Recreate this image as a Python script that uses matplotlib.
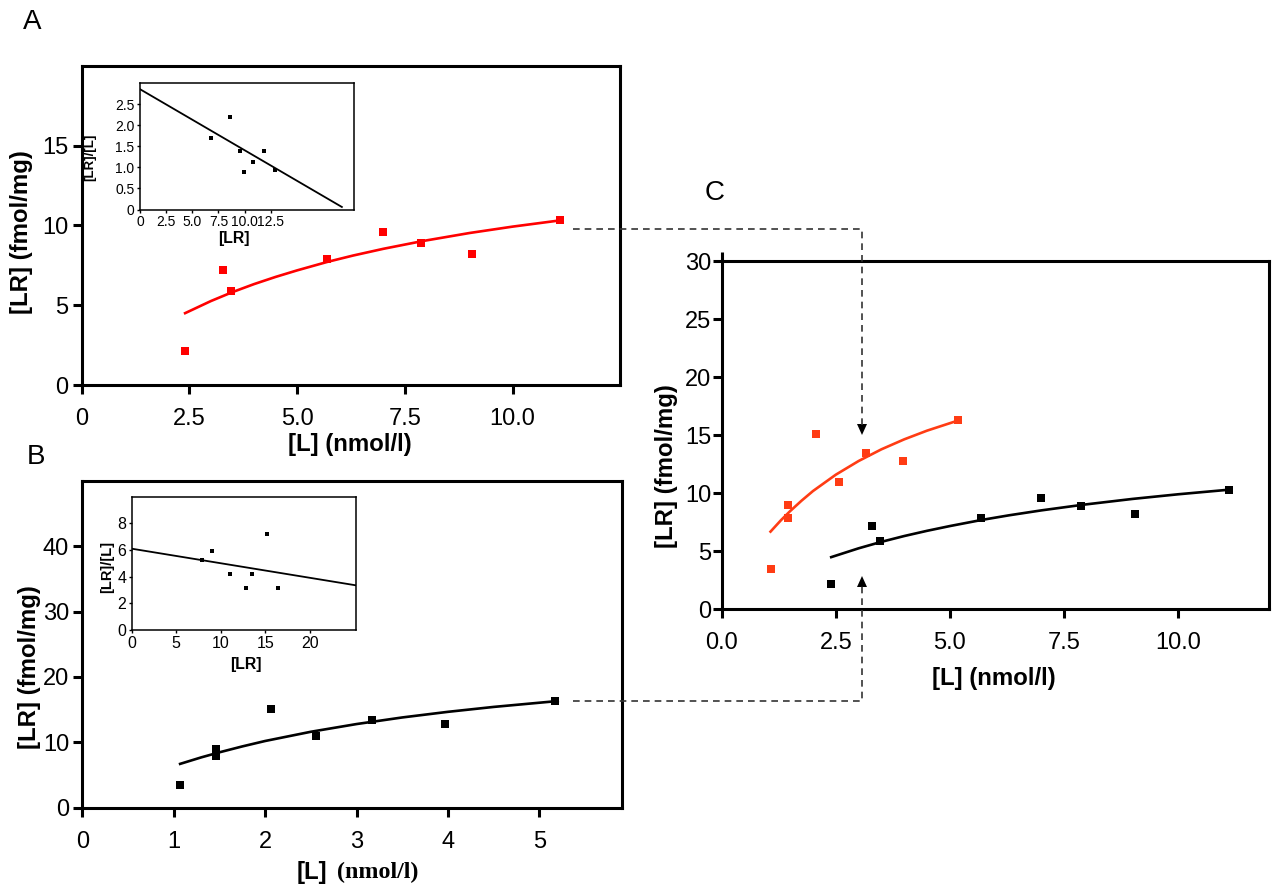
import matplotlib
matplotlib.use('Agg')
import matplotlib.pyplot as plt

plt.rcParams['font.family'] = ['Liberation Sans', 'DejaVu Sans']

# Panel A: saturation binding (red)
ligand_a = [2.4, 3.29, 3.47, 5.69, 6.99, 7.87, 9.05, 11.11]
bound_a = [2.15, 7.2, 5.9, 7.9, 9.6, 8.9, 8.2, 10.33]
fit_a_x = [2.4, 3.0, 3.5, 4.0, 4.5, 5.0, 5.7, 6.3, 7.0, 7.9, 9.0, 10.0, 11.1]
fit_a_y = [4.50, 5.26, 5.82, 6.32, 6.77, 7.18, 7.71, 8.11, 8.53, 9.01, 9.52, 9.92, 10.31]

# Panel A inset: Scatchard
scat_a_x = [6.8, 8.6, 9.55, 9.95, 10.85, 11.9, 12.9]
scat_a_y = [1.71, 2.21, 1.40, 0.90, 1.13, 1.39, 0.94]
scat_a_line_x = [0, 19.3]
scat_a_line_y = [2.86, 0.06]

# Panel B: saturation binding (black)
ligand_b = [1.07, 1.46, 1.46, 2.06, 2.56, 3.17, 3.97, 5.17]
bound_b = [3.45, 9.0, 7.9, 15.15, 11.0, 13.45, 12.75, 16.35]
fit_b_x = [1.07, 1.3, 1.5, 1.75, 2.0, 2.5, 3.0, 3.5, 4.0, 4.5, 5.2]
fit_b_y = [6.70, 7.69, 8.47, 9.37, 10.20, 11.61, 12.79, 13.80, 14.66, 15.41, 16.31]

# Panel B inset: Scatchard
scat_b_x = [7.85, 8.97, 11.03, 12.82, 13.46, 15.25, 16.41]
scat_b_y = [5.22, 5.95, 4.22, 3.17, 4.2, 7.22, 3.12]
scat_b_line_x = [0, 25.2]
scat_b_line_y = [6.1, 3.35]

W, H = 1273, 890
red_a = '#ff0000'
red_c = '#ff3c14'


def box(l, t, r, b):
    return [l / W, 1 - b / H, (r - l) / W, (b - t) / H]


def txt(x, y, s, **kw):
    fig.text(x / W, 1 - y / H, s, ha=kw.pop('ha', 'center'), va='center', **kw)


def style_main(ax):
    for sp in ax.spines.values():
        sp.set_linewidth(2.2)
    ax.tick_params(direction='out', length=6.5, width=2.2, labelsize=17)
    ax.tick_params(axis='x', pad=10)
    ax.tick_params(axis='y', pad=3)


def style_inset(ax, size):
    for sp in ax.spines.values():
        sp.set_linewidth(1.1)
    ax.tick_params(direction='out', length=2.5, width=1.0, labelsize=size, pad=1.5)


fig = plt.figure(figsize=(12.73, 8.9), dpi=100)

# ---- A
ax_a = fig.add_axes(box(81.7, 65.7, 620.3, 385))
ax_a.plot(fit_a_x, fit_a_y, color=red_a, lw=1.9)
ax_a.plot(ligand_a, bound_a, 's', color=red_a, ms=6, mew=0)
ax_a.set_xlim(0, 12.5)
ax_a.set_ylim(0, 20)
ax_a.set_xticks([0, 2.5, 5, 7.5, 10])
ax_a.set_xticklabels(['0', '2.5', '5.0', '7.5', '10.0'])
ax_a.set_yticks([0, 5, 10, 15])
style_main(ax_a)

ins_a = fig.add_axes(box(140, 83.3, 354, 209.5))
ins_a.plot(scat_a_line_x, scat_a_line_y, color='black', lw=1.3)
ins_a.plot(scat_a_x, scat_a_y, 's', color='black', ms=2.6, mew=0)
ins_a.set_xlim(0, 20.46)
ins_a.set_ylim(0, 3)
ins_a.set_xticks([0, 2.5, 5, 7.5, 10, 12.5])
ins_a.set_xticklabels(['0', '2.5', '5.0', '7.5', '10.0', '12.5'])
ins_a.set_yticks([0, 0.5, 1, 1.5, 2, 2.5])
ins_a.set_yticklabels(['0', '0.5', '1.0', '1.5', '2.0', '2.5'])
style_inset(ins_a, 10)

# ---- B
ax_b = fig.add_axes(box(82.3, 480.7, 621.7, 807.7))
ax_b.plot(fit_b_x, fit_b_y, color='black', lw=1.9)
ax_b.plot(ligand_b, bound_b, 's', color='black', ms=6.2, mew=0)
ax_b.set_xlim(0, 5.9)
ax_b.set_ylim(0, 50)
ax_b.set_xticks([0, 1, 2, 3, 4, 5])
ax_b.set_yticks([0, 10, 20, 30, 40])
style_main(ax_b)

ins_b = fig.add_axes(box(131.7, 496.7, 356, 630))
ins_b.plot(scat_b_line_x, scat_b_line_y, color='black', lw=1.3)
ins_b.plot(scat_b_x, scat_b_y, 's', color='black', ms=2.6, mew=0)
ins_b.set_xlim(0, 25.2)
ins_b.set_ylim(0, 10)
ins_b.set_xticks([0, 5, 10, 15, 20])
ins_b.set_yticks([0, 2, 4, 6, 8])
style_inset(ins_b, 11.5)

# ---- C (overlay of A and B)
ax_c = fig.add_axes(box(721.7, 261.5, 1269.3, 609.3))
ax_c.plot(fit_b_x, fit_b_y, color=red_c, lw=1.9)
ax_c.plot(ligand_b, bound_b, 's', color=red_c, ms=6, mew=0)
ax_c.plot(fit_a_x, fit_a_y, color='black', lw=1.9)
ax_c.plot(ligand_a, bound_a, 's', color='black', ms=6, mew=0)
ax_c.set_xlim(0, 12)
ax_c.set_ylim(0, 30)
ax_c.set_xticks([0, 2.5, 5, 7.5, 10])
ax_c.set_xticklabels(['0.0', '2.5', '5.0', '7.5', '10.0'])
ax_c.set_yticks([0, 5, 10, 15, 20, 25, 30])
style_main(ax_c)
ax_c.tick_params(axis='y', pad=1)
ax_c.plot([0, 0], [1, 1.028], color='black', lw=2.2, transform=ax_c.transAxes,
          clip_on=False, solid_capstyle='butt')

# ---- labels
txt(32, 22, 'A', fontsize=20)
txt(36, 457, 'B', fontsize=20)
txt(715, 193, 'C', fontsize=20)

lab = dict(fontsize=17.3, fontweight='bold')
txt(22, 232, '[LR] (fmol/mg)', rotation=90, **lab)
txt(30, 667, '[LR] (fmol/mg)', rotation=90, **lab)
txt(667, 466, '[LR] (fmol/mg)', rotation=90, **lab)
txt(350, 445, '[L] (nmol/l)', **lab)
txt(994, 679, '[L] (nmol/l)', **lab)
txt(327, 872, '[L]', ha='right', **lab)
txt(337, 872, '(nmol/l)', ha='left', family=['Liberation Serif', 'DejaVu Serif'], **lab)

txt(90, 157, '[LR]/[L]', rotation=90, fontsize=9.5, fontweight='bold')
txt(234, 238, '[LR]', fontsize=11.4, fontweight='bold')
txt(107, 567, '[LR]/[L]', rotation=90, fontsize=10.5, fontweight='bold')
txt(246, 665, '[LR]', fontsize=11.4, fontweight='bold')

# ---- dashed connectors to panel C (pixel layout)
ov = fig.add_axes([0, 0, 1, 1])
ov.set_xlim(0, W)
ov.set_ylim(H, 0)
ov.axis('off')
dash = dict(color='#333333', lw=1.2, linestyle=(0, (4, 3)))
ov.plot([573, 862, 862], [229, 229, 425], **dash)
ov.plot([573, 862, 862], [700.7, 700.7, 586], **dash)
ov.fill([857, 867, 862], [424, 424, 435], color='black', lw=0)
ov.fill([857, 867, 862], [587, 587, 576], color='black', lw=0)

fig.savefig('out.png', dpi=100)
